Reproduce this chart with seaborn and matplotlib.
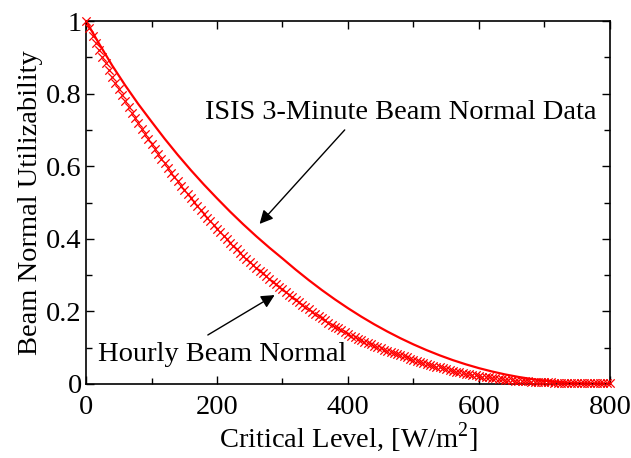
import matplotlib
matplotlib.use("Agg")
import matplotlib.pyplot as plt
import seaborn as sns
import pandas as pd
from matplotlib.ticker import MultipleLocator

# ---- data ----
isis_x = [0, 20, 40, 60, 80, 100, 120, 140, 160, 180, 200, 220, 240, 260, 280,
          300, 320, 340, 360, 380, 400, 420, 440, 460, 480, 500, 520, 540, 560,
          580, 600, 620, 640, 660, 680, 700, 720, 740, 760, 780, 800]
isis_y = [1.0, 0.9375, 0.8774, 0.8223, 0.7708, 0.7229, 0.6759, 0.6314, 0.5893,
          0.5494, 0.5115, 0.4748, 0.4400, 0.4069, 0.3755, 0.3457, 0.3152, 0.2863,
          0.2589, 0.2331, 0.2088, 0.1859, 0.1645, 0.1446, 0.1261, 0.1090, 0.0933,
          0.0789, 0.0658, 0.0541, 0.0436, 0.0344, 0.0263, 0.0195, 0.0137, 0.0091,
          0.0055, 0.0029, 0.0011, 0.0002, 0.0]

hourly_x = list(range(0, 805, 5))
hourly_y = [
    1.0, 0.9799, 0.9601, 0.9405, 0.9212, 0.9022, 0.8835, 0.8651, 0.8469, 0.8294,
    0.8124, 0.7957, 0.7794, 0.7635, 0.7479, 0.7327, 0.7177, 0.7031, 0.6888, 0.6748,
    0.6610, 0.6473, 0.6338, 0.6206, 0.6076, 0.5949, 0.5824, 0.5701, 0.5581, 0.5463,
    0.5348, 0.5234, 0.5123, 0.5014, 0.4907, 0.4797, 0.4690, 0.4584, 0.4480, 0.4378,
    0.4277, 0.4178, 0.4081, 0.3986, 0.3893, 0.3801, 0.3711, 0.3622, 0.3535, 0.3450,
    0.3366, 0.3284, 0.3203, 0.3123, 0.3045, 0.2969, 0.2894, 0.2820, 0.2748, 0.2677,
    0.2607, 0.2534, 0.2461, 0.2390, 0.2320, 0.2252, 0.2184, 0.2119, 0.2054, 0.1991,
    0.1929, 0.1868, 0.1809, 0.1751, 0.1694, 0.1638, 0.1583, 0.1530, 0.1478, 0.1427,
    0.1377, 0.1334, 0.1291, 0.1250, 0.1209, 0.1169, 0.1131, 0.1093, 0.1055, 0.1019,
    0.0984, 0.0949, 0.0916, 0.0883, 0.0851, 0.0819, 0.0789, 0.0759, 0.0730, 0.0701,
    0.0674, 0.0643, 0.0614, 0.0585, 0.0557, 0.0530, 0.0504, 0.0479, 0.0455, 0.0431,
    0.0408, 0.0386, 0.0365, 0.0344, 0.0325, 0.0306, 0.0287, 0.0270, 0.0253, 0.0236,
    0.0221, 0.0206, 0.0192, 0.0179, 0.0166, 0.0154, 0.0143, 0.0132, 0.0122, 0.0113,
    0.0104, 0.0096, 0.0088, 0.0081, 0.0075, 0.0069, 0.0064, 0.0059, 0.0055, 0.0051,
    0.0047, 0.0044, 0.0041, 0.0038, 0.0036, 0.0034, 0.0032, 0.0030, 0.0028, 0.0027,
    0.0025, 0.0024, 0.0023, 0.0022, 0.0021, 0.0020, 0.0019, 0.0018, 0.0017, 0.0016,
    0.0015]

x_ticks = [0, 200, 400, 600, 800]
y_ticks = [0, 0.2, 0.4, 0.6, 0.8, 1]
y_tick_labels = ["0", "0.2", "0.4", "0.6", "0.8", "1"]

sns.set_style("ticks")
plt.rcParams["font.family"] = ["Liberation Serif", "DejaVu Serif"]
plt.rcParams["mathtext.fontset"] = "custom"
plt.rcParams["mathtext.rm"] = "Liberation Serif"
plt.rcParams["text.color"] = "black"
plt.rcParams["axes.labelcolor"] = "black"

FS = 20.5

fig = plt.figure(figsize=(6.31, 4.58), dpi=100)
ax = fig.add_axes([0.1363, 0.1616, 0.8304, 0.7925])

df_isis = pd.DataFrame({"x": isis_x, "y": isis_y})
df_hour = pd.DataFrame({"x": hourly_x, "y": hourly_y})

sns.lineplot(data=df_isis, x="x", y="y", color="red", lw=1.6, ax=ax, clip_on=False)
sns.scatterplot(data=df_hour, x="x", y="y", marker="x", s=36, color="red",
                linewidth=0.9, ax=ax, clip_on=False, zorder=3)

ax.set_xlim(0, 800)
ax.set_ylim(0, 1)
ax.set_xticks(x_ticks)
ax.set_xticklabels([str(v) for v in x_ticks])
ax.set_yticks(y_ticks)
ax.set_yticklabels(y_tick_labels)
ax.xaxis.set_minor_locator(MultipleLocator(100))
ax.yaxis.set_minor_locator(MultipleLocator(0.1))
ax.tick_params(which="both", direction="in", top=True, right=True,
               labelsize=FS, colors="black", width=1)
ax.tick_params(which="major", length=6)
ax.tick_params(axis="x", which="major", pad=8)
ax.tick_params(axis="y", which="major", pad=3)
ax.tick_params(which="minor", length=4)
for s in ax.spines.values():
    s.set_linewidth(1.2)
    s.set_color("black")

ax.set_xlabel("Critical Level, [W/m$^2$]", fontsize=FS, labelpad=0)
ax.set_ylabel("Beam Normal Utilizability", fontsize=FS, labelpad=2)

ax.text(481, 0.749, "ISIS 3-Minute Beam Normal Data", ha="center", va="center",
        fontsize=FS)
ax.annotate("", xy=(265, 0.441), xytext=(395, 0.70),
            arrowprops=dict(arrowstyle="-|>", color="black", lw=1,
                            mutation_scale=20, shrinkA=0, shrinkB=0))
ax.text(208, 0.080, "Hourly Beam Normal", ha="center", va="center", fontsize=FS)
ax.annotate("", xy=(288, 0.245), xytext=(186, 0.135),
            arrowprops=dict(arrowstyle="-|>", color="black", lw=1,
                            mutation_scale=20, shrinkA=0, shrinkB=0))

fig.savefig("out.png", dpi=100)
